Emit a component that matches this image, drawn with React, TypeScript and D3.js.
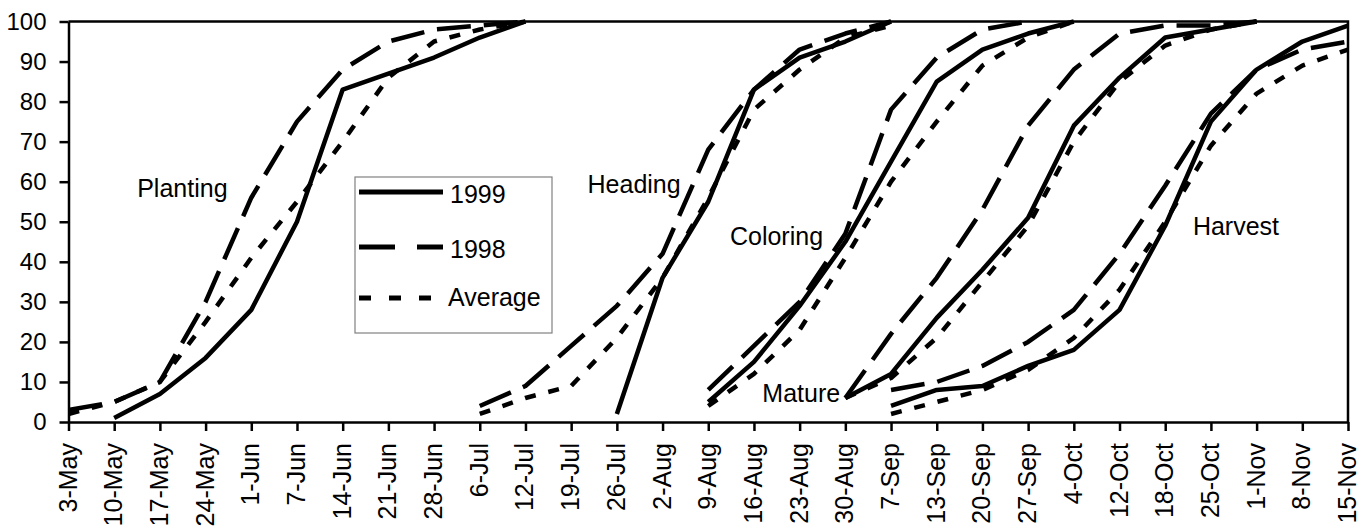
import React, { useEffect, useRef } from "react";
import * as d3 from "d3";

// Category axis (weekly report dates)
const dates = [
  "3-May", "10-May", "17-May", "24-May", "1-Jun", "7-Jun", "14-Jun", "21-Jun",
  "28-Jun", "6-Jul", "12-Jul", "19-Jul", "26-Jul", "2-Aug", "9-Aug", "16-Aug",
  "23-Aug", "30-Aug", "7-Sep", "13-Sep", "20-Sep", "27-Sep", "4-Oct", "12-Oct",
  "18-Oct", "25-Oct", "1-Nov", "8-Nov", "15-Nov",
];
const yTicks = [0, 10, 20, 30, 40, 50, 60, 70, 80, 90, 100];

// Planting
const plantingStart = "3-May";
const planting1999 = [null, 1, 7, 16, 28, 50, 83, 87, 91, 96, 100];
const planting1998 = [3, 5, 10, 30, 56, 75, 88, 95, 98, 99, 100];
const plantingAvg = [2, 5, 10, 25, 41, 55, 70, 86, 95, 98, 100];

// Heading
const headingStart = "6-Jul";
const heading1999 = [null, null, null, 2, 36, 55, 83, 91, 95, 100];
const heading1998 = [4, 9, 19, 29, 42, 68, 83, 93, 97, 100];
const headingAvg = [2, 6, 9, 21, 36, 56, 78, 88, 96, 99];

// Coloring
const coloringStart = "9-Aug";
const coloring1999 = [5, 15, 29, 45, 65, 85, 93, 97, 100];
const coloring1998 = [8, 19, 30, 47, 78, 91, 98, 100, null];
const coloringAvg = [4, 12, 23, 41, 60, 75, 89, 96, 100];

// Mature
const matureStart = "30-Aug";
const mature1999 = [6, 12, 26, 38, 51, 74, 86, 96, 98, 100];
const mature1998 = [6, 22, 36, 53, 74, 88, 97, 99, 99, 100];
const matureAvg = [6, 11, 21, 35, 49, 70, 85, 94, 98, 100];

// Harvest
const harvestStart = "7-Sep";
const harvest1999 = [4, 8, 9, 14, 18, 28, 49, 75, 88, 95, 99];
const harvest1998 = [8, 10, 14, 20, 28, 42, 59, 77, 88, 93, 95];
const harvestAvg = [2, 5, 8, 13, 21, 33, 50, 69, 82, 89, 93];

const seriesNames = ["1999", "1998", "Average"];
const dashes = ["none", "34,13", "11,13"];

const FONT = "'Liberation Sans', Arial, sans-serif";

export default function App() {
  const ref = useRef<SVGSVGElement>(null);

  useEffect(() => {
    if (!ref.current) return;
    const svg = d3.select(ref.current);
    svg.selectAll("*").remove();

    const left = 68.5, right = 1348, top = 21.5, bottom = 422;

    const x = d3.scalePoint<string>().domain(dates).range([left, right]);
    const y = d3.scaleLinear().domain([0, 100]).range([bottom, top]);

    // build one row per line
    const stages = [
      { start: plantingStart, series: [planting1999, planting1998, plantingAvg] },
      { start: headingStart, series: [heading1999, heading1998, headingAvg] },
      { start: coloringStart, series: [coloring1999, coloring1998, coloringAvg] },
      { start: matureStart, series: [mature1999, mature1998, matureAvg] },
      { start: harvestStart, series: [harvest1999, harvest1998, harvestAvg] },
    ];

    const line = d3
      .line<{ d: string; v: number | null }>()
      .defined((p) => p.v != null)
      .x((p) => x(p.d) as number)
      .y((p) => y(p.v as number));

    const g = svg.append("g");

    stages.forEach((st) => {
      const i0 = dates.indexOf(st.start);
      st.series.forEach((vals, si) => {
        const pts = vals.map((v, i) => ({ d: dates[i0 + i], v }));
        g.append("path")
          .attr("d", line(pts) as string)
          .attr("fill", "none")
          .attr("stroke", "#000")
          .attr("stroke-width", 4.5)
          .attr("stroke-linejoin", "round")
          .attr("stroke-dasharray", dashes[si]);
      });
    });

    // plot border (top & right)
    svg.append("path")
      .attr("d", `M${left},${top}H${right}V${bottom}`)
      .attr("fill", "none")
      .attr("stroke", "#000")
      .attr("stroke-width", 2.5);

    // Y axis
    const ya = svg
      .append("g")
      .attr("transform", `translate(${left},0)`)
      .call(d3.axisLeft(y).tickValues(yTicks).tickSize(9).tickSizeOuter(0).tickPadding(13));
    ya.select(".domain").attr("stroke-width", 2.5);
    ya.selectAll(".tick line").attr("stroke-width", 2.5);
    ya.selectAll(".tick text")
      .attr("font-size", 24)
      .attr("font-family", FONT)
      .attr("fill", "#000");

    // X axis
    const xa = svg
      .append("g")
      .attr("transform", `translate(0,${bottom})`)
      .call(d3.axisBottom(x).tickSize(9).tickSizeOuter(0));
    xa.select(".domain").attr("stroke-width", 2.5);
    xa.selectAll(".tick line").attr("stroke-width", 2.5);
    xa.selectAll(".tick text")
      .attr("font-size", 25)
      .attr("font-family", FONT)
      .attr("fill", "#000")
      .attr("text-anchor", "end")
      .attr("y", 0)
      .attr("x", 0)
      .attr("dy", "0.3em")
      .attr("transform", "translate(0,21) rotate(-90)");

    // stage annotations
    const ann = [
      { t: "Planting", x: x("10-May")! + 23, y: y(56.2) },
      { t: "Heading", x: x("2-Aug")! - 75, y: y(57.2) },
      { t: "Coloring", x: x("16-Aug")! - 24, y: y(44.2) },
      { t: "Mature", x: x("30-Aug")! - 83, y: y(5) },
      { t: "Harvest", x: x("25-Oct")! - 18, y: y(46.7) },
    ];
    svg.append("g")
      .selectAll("text")
      .data(ann)
      .enter()
      .append("text")
      .attr("x", (d) => d.x)
      .attr("y", (d) => d.y)
      .attr("font-size", 25)
      .attr("font-family", FONT)
      .text((d) => d.t);

    // legend
    const lg = svg.append("g").attr("transform", "translate(355,177)");
    lg.append("rect")
      .attr("width", 197)
      .attr("height", 156)
      .attr("fill", "#fff")
      .attr("stroke", "#808080")
      .attr("stroke-width", 1.2);
    const rows = [15, 70, 121];
    seriesNames.forEach((name, i) => {
      lg.append("line")
        .attr("x1", 4)
        .attr("x2", 88)
        .attr("y1", rows[i])
        .attr("y2", rows[i])
        .attr("stroke", "#000")
        .attr("stroke-width", 5)
        .attr("stroke-dasharray", i === 0 ? "none" : i === 1 ? "36,22" : "12,18");
      lg.append("text")
        .attr("x", name === "Average" ? 93 : 95)
        .attr("y", rows[i] + (i === 2 ? 8 : 11))
        .attr("font-size", 25)
        .attr("font-family", FONT)
        .text(name);
    });
  }, []);

  return (
    <svg
      ref={ref}
      width={1367}
      height={527}
      style={{ position: "absolute", left: 0, top: 0, background: "#fff" }}
    />
  );
}
